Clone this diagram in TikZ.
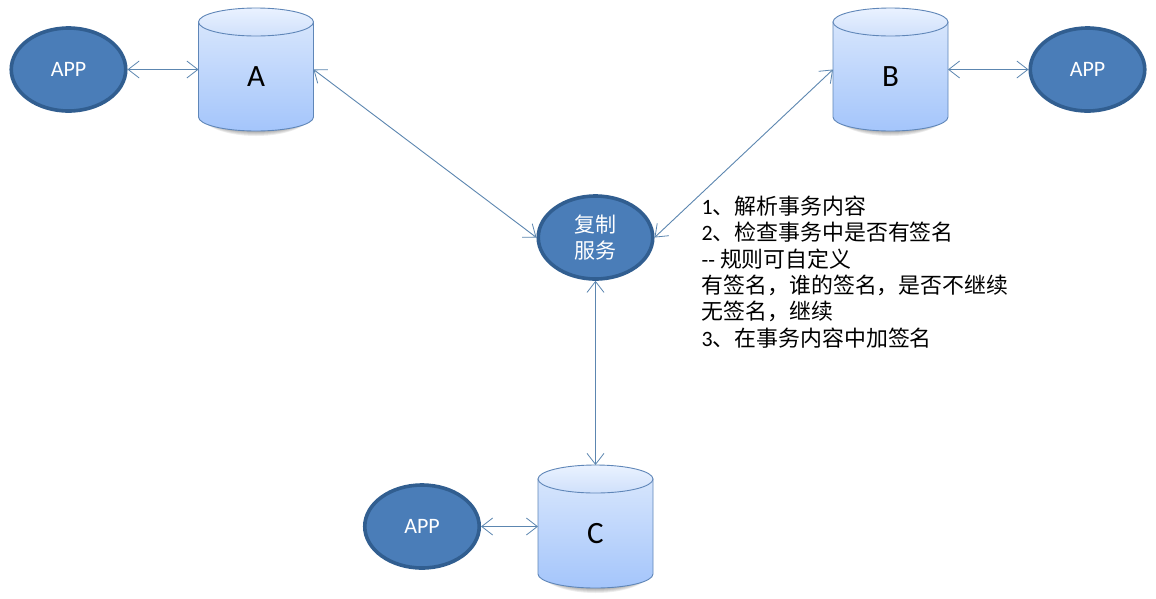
\documentclass[tikz,border=0pt]{standalone}
\usepackage{fontspec}
\setmainfont{Noto Sans CJK SC}
\newfontfamily\latf{Carlito}
\usetikzlibrary{arrows.meta,shapes.geometric}
\definecolor{ellfill}{HTML}{4A7DB8}
\definecolor{ellline}{HTML}{315E90}
\definecolor{cylline}{HTML}{5F86B8}
\definecolor{conn}{HTML}{5C86B0}
\tikzset{
  appnode/.style={ellipse,draw=ellline,fill=ellfill,line width=3.6pt,minimum width=114.5pt,minimum height=83pt,inner sep=0pt,text=white,align=center},
  dbnode/.style={rectangle,minimum width=115pt,minimum height=123pt,inner sep=0pt,outer sep=0pt},
  dblabel/.style={inner sep=0pt,font=\latf\fontsize{31pt}{31pt}\selectfont},
  link/.style={draw=conn,line width=0.9pt,{Straight Barb[length=11pt,width=17pt,line width=0.8pt]}-{Straight Barb[length=11pt,width=17pt,line width=0.8pt]}},
  cylbody/.style={draw=cylline,line width=0.9pt,top color=cyltop,bottom color=cylbot},
  cylcap/.style={draw=cylline,line width=0.9pt,top color=captop,bottom color=capbot},
}
\definecolor{cyltop}{HTML}{D6E5FC}
\definecolor{cylbot}{HTML}{A4C5FB}
\definecolor{captop}{HTML}{EAF2FF}
\definecolor{capbot}{HTML}{CFE0FB}
% x = left edge, y = top edge of a 115 x 123 cylinder
\newcommand{\dbcyl}[4]{%
  \foreach \s in {1,2,3,4,5}{
    \fill[black,opacity=0.07] (#2+1,#3+105) -- (#2+114,#3+105) arc[start angle=0,end angle=180,x radius=56.5,y radius={18+\s}] -- cycle;
  }
  \path[cylbody] (#2,#3+14) -- (#2,#3+109) arc[start angle=180,end angle=0,x radius=57.5,y radius=14] -- (#2+115,#3+14) -- cycle;
  \path[cylcap] (#2+57.5,#3+14) ellipse[x radius=57.5,y radius=14];
  \node[dbnode,anchor=north west] (#1) at (#2,#3) {};
  \node[dblabel] (#1t) at ([yshift=-7.5pt]#1.center) {#4};
}
\begin{document}
\begin{tikzpicture}[x=1pt,y=-1pt]
\useasboundingbox (0,0) rectangle (1156,598);
\fill[white] (0,0) rectangle (1156,598);
\dbcyl{dba}{198.5}{8}{A}
\dbcyl{dbb}{833}{8}{B}
\dbcyl{dbc}{538}{465}{C}
\newcommand{\appt}{\latf\fontsize{22pt}{24pt}\selectfont APP}
\node[appnode] (appa) at (68.5,69.5) {\appt};
\node[appnode] (appb) at (1087.5,69.5) {\appt};
\node[appnode] (appc) at (422,526.5) {\appt};
\node[appnode,font=\fontsize{21pt}{26pt}\selectfont] (svc) at (595.5,237.5) {复制\\服务};
\draw[link] (appa.east) -- (dba.west);
\draw[link] (dbb.east) -- (appb.west);
\draw[link] (appc.east) -- (dbc.west);
\draw[link] (dba.east) -- (svc.west);
\draw[link] (dbb.west) -- (svc.east);
\draw[link] (svc.south) -- (dbc.north);
\node[anchor=north west,inner sep=0pt,align=left,font=\fontsize{21.9pt}{26.4pt}\selectfont] (note) at (701.5,195.5) {%
{\latf 1}、解析事务内容\\
{\latf 2}、检查事务中是否有签名\\
{\latf -{}-} 规则可自定义\\
有签名，谁的签名，是否不继续\\
无签名，继续\\
{\latf 3}、在事务内容中加签名};
\end{tikzpicture}
\end{document}
